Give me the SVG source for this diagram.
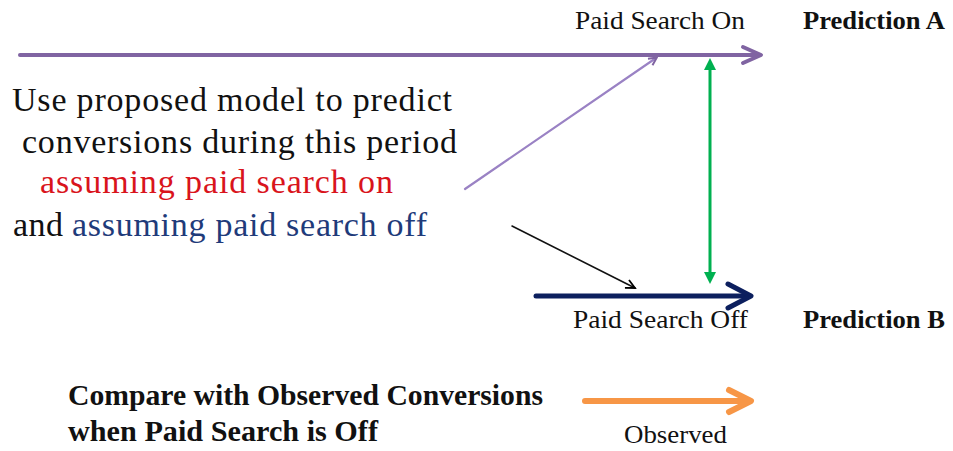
<svg xmlns="http://www.w3.org/2000/svg" width="953" height="451" viewBox="0 0 953 451">
<style>
text{font-family:"Liberation Serif","Times New Roman",serif;fill:#111}
.lbl{font-size:26px}
.big{font-size:34px}
.bold{font-weight:bold}
.red{fill:#d9141c}
.blue{fill:#1f3b7a}
</style>
<defs>
<marker id="thinP" markerWidth="10" markerHeight="10" refX="8" refY="5" orient="auto" markerUnits="userSpaceOnUse">
<path d="M1,1 L9,5 L1,9" fill="none" stroke="#8064a2" stroke-width="2"/>
</marker>
<marker id="thinK" markerWidth="12" markerHeight="12" refX="10" refY="6" orient="auto" markerUnits="userSpaceOnUse">
<path d="M1,1.5 L10,6 L1,10.5" fill="none" stroke="#000" stroke-width="1.8"/>
</marker>
</defs>
<g id="connectors" fill="none" stroke-linecap="round" stroke-linejoin="round">
<g id="arrow-on">
<line x1="20" y1="55" x2="759" y2="55" stroke="#8064a2" stroke-width="4"/>
<path d="M743,47 L761,55 L743,63" stroke="#8064a2" stroke-width="4"/>
</g>
<line id="diag-on" x1="465" y1="189" x2="656" y2="58" stroke="#9a82c4" stroke-width="2.2" marker-end="url(#thinP)"/>
<line id="diag-off" x1="512" y1="226" x2="635" y2="288" stroke="#111" stroke-width="1.6" marker-end="url(#thinK)"/>
<line id="green" x1="710" y1="70" x2="710" y2="272" stroke="#00b050" stroke-width="3"/>
<path d="M704,70 L710,58 L716,70 Z" fill="#00b050"/>
<path d="M704,272 L710,284 L716,272 Z" fill="#00b050"/>
<g id="arrow-off">
<line x1="536" y1="296" x2="749" y2="296" stroke="#0c1f5e" stroke-width="5"/>
<path d="M728,284 L751,296 L728,308" stroke="#0c1f5e" stroke-width="5"/>
</g>
<g id="arrow-obs">
<line x1="585" y1="401" x2="749" y2="401" stroke="#f79646" stroke-width="6"/>
<path d="M729,390 L751,401 L729,412" stroke="#f79646" stroke-width="6"/>
</g>
</g>
<g id="label-on"><text class="lbl" x="575" y="29" textLength="170" lengthAdjust="spacingAndGlyphs">Paid Search  On</text></g>
<g id="pred-a"><text class="lbl bold" x="803" y="29" textLength="142" lengthAdjust="spacingAndGlyphs">Prediction A</text></g>
<g id="main-text">
<text class="big" x="12" y="111" textLength="440">Use proposed model  to predict</text>
<text class="big" x="22" y="153" textLength="435">conversions  during  this  period</text>
<text class="big red" x="40" y="193" textLength="353">assuming  paid  search  on</text>
<text class="big" x="13" y="236" textLength="50">and</text>
<text class="big blue" x="72" y="236" textLength="355">assuming  paid  search  off</text>
</g>
<g id="label-off"><text class="lbl" x="573" y="328" textLength="175" lengthAdjust="spacingAndGlyphs">Paid Search  Off</text></g>
<g id="pred-b"><text class="lbl bold" x="803" y="328" textLength="142" lengthAdjust="spacingAndGlyphs">Prediction B</text></g>
<g id="compare">
<text class="bold" font-size="29" x="68" y="405" textLength="475" lengthAdjust="spacingAndGlyphs">Compare  with  Observed  Conversions</text>
<text class="bold" font-size="29" x="68" y="441" textLength="310" lengthAdjust="spacingAndGlyphs">when  Paid  Search is Off</text>
</g>
<g id="observed"><text class="lbl" x="624" y="443" textLength="103" lengthAdjust="spacingAndGlyphs">Observed</text></g>
</svg>
